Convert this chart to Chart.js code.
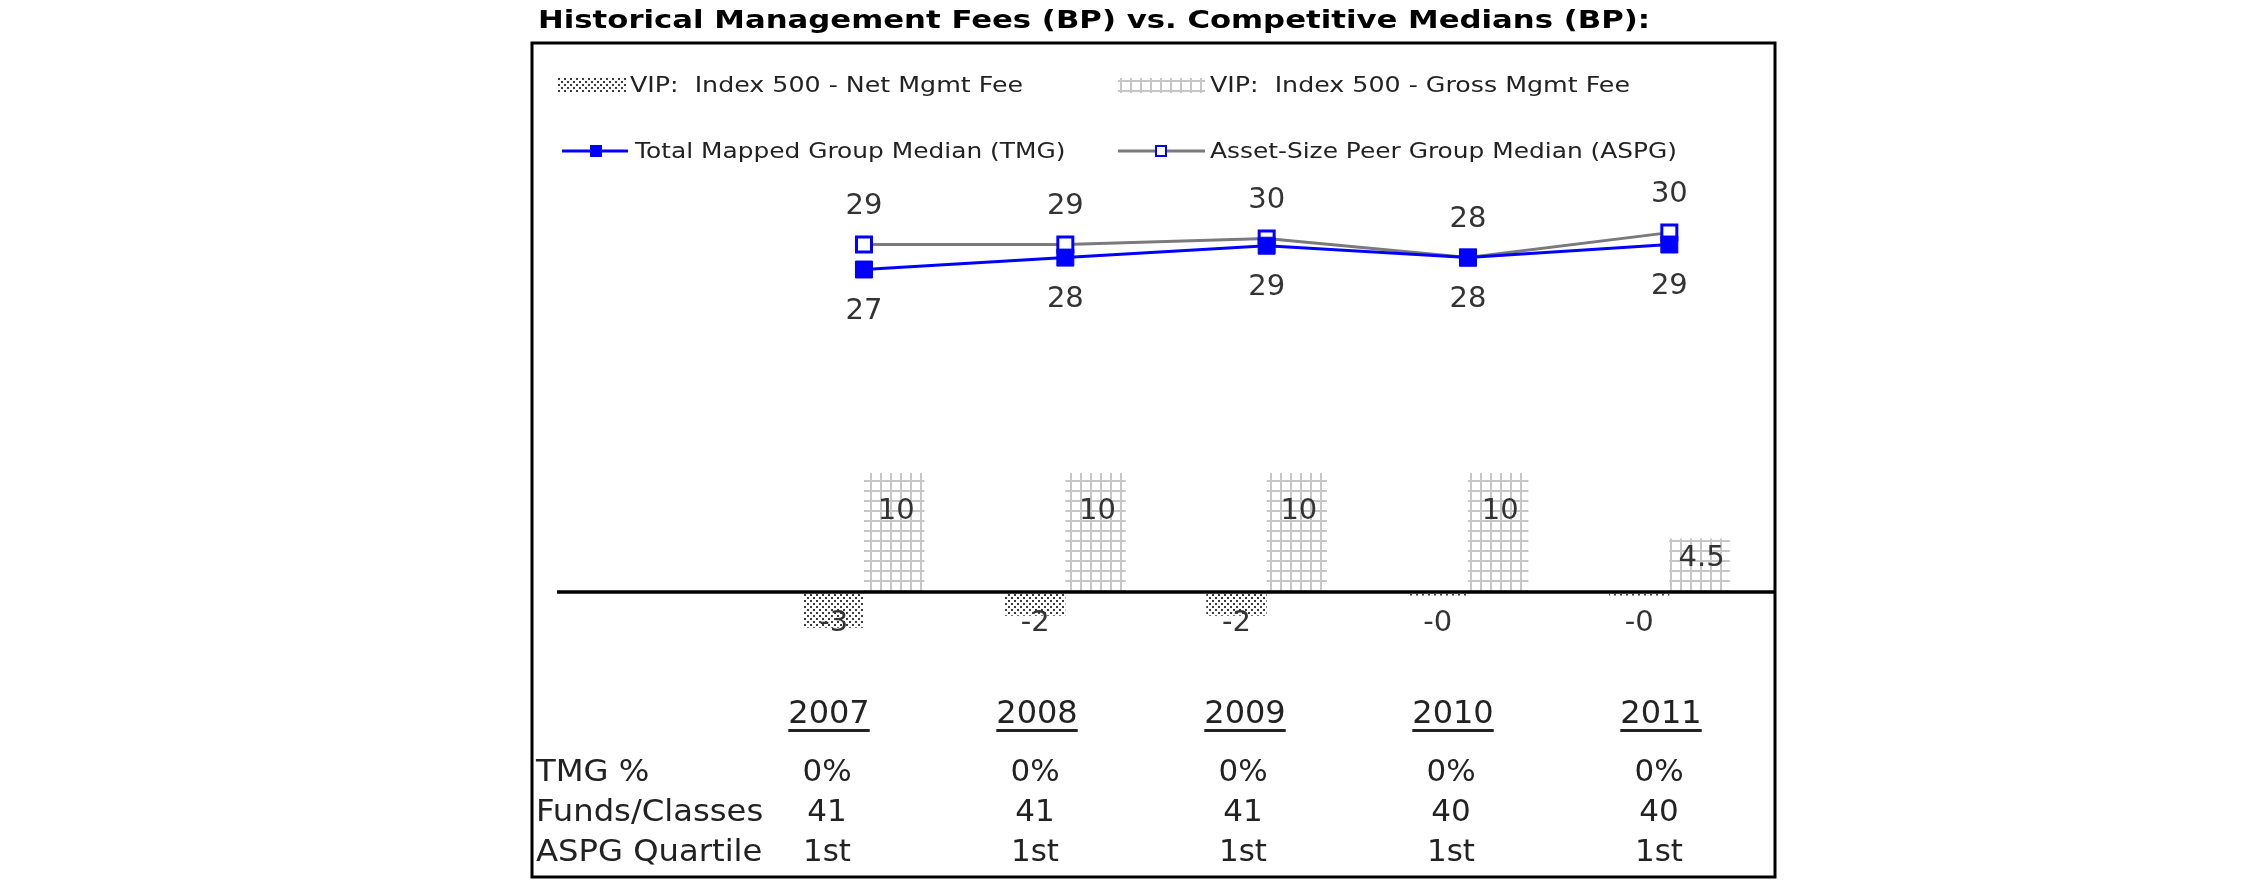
<!DOCTYPE html>
<html>
<head>
<meta charset="utf-8">
<title>Historical Management Fees (BP) vs. Competitive Medians (BP)</title>
<script src="https://cdn.jsdelivr.net/npm/chart.js@4.4.1/dist/chart.umd.min.js"></script>
<style>
    html, body { margin: 0; padding: 0; background: #fff; }
    .wrap { position: relative; width: 2250px; height: 895px; }
</style>
</head>
<body>
<div class="wrap"><canvas id="feeChart"></canvas></div>
<script>
// Chart data (basis points)
const years = ['2007', '2008', '2009', '2010', '2011'];
const netFee = [-3, -2, -2, -0.3, -0.3];
const grossFee = [10, 10, 10, 10, 4.5];
const tmgMedian = [27.1, 28.1, 29.1, 28.1, 29.2];
const aspgMedian = [29.2, 29.2, 29.7, 28.1, 30.2];

// Table under the chart
const tmgPct = ['0%', '0%', '0%', '0%', '0%'];
const fundsClasses = ['41', '41', '41', '40', '40'];
const aspgQuartile = ['1st', '1st', '1st', '1st', '1st'];
const tableRows = [
    ['TMG %', tmgPct],
    ['Funds/Classes', fundsClasses],
    ['ASPG Quartile', aspgQuartile]
];

const chartTitle = 'Historical Management Fees (BP) vs. Competitive Medians (BP):';
const seriesNames = [
    'VIP:  Index 500 - Net Mgmt Fee',
    'VIP:  Index 500 - Gross Mgmt Fee',
    'Total Mapped Group Median (TMG)',
    'Asset-Size Peer Group Median (ASPG)'
];

const FONT = '"DejaVu Sans", Verdana, sans-serif';
const canvas = document.getElementById('feeChart');
const ctx = canvas.getContext('2d');

// Fill patterns like the old Excel bars
function dotPattern() {
    const c = document.createElement('canvas');
    c.width = 6; c.height = 6;
    const g = c.getContext('2d');
    g.fillStyle = '#3c3c3c';
    g.fillRect(0, 0, 2, 2);
    g.fillRect(3, 3, 2, 2);
    return ctx.createPattern(c, 'repeat');
}

function gridPattern() {
    const c = document.createElement('canvas');
    c.width = 10; c.height = 10;
    const g = c.getContext('2d');
    g.fillStyle = '#c6c6c6';
    g.fillRect(0, 0, 2, 10);
    g.fillRect(0, 0, 10, 2);
    return ctx.createPattern(c, 'repeat');
}

const dots = dotPattern();
const grid = gridPattern();

// first slot is an empty category, as in the original chart
const labels = [''].concat(years);
const pad = arr => [null].concat(arr);

function stretchText(g, text, x, y, sx) {
    g.save();
    g.translate(x, y);
    g.scale(sx, 1);
    g.fillText(text, 0, 0);
    g.restore();
}

const decor = {
    id: 'decor',
    afterDatasetsDraw(chart) {
        const g = chart.ctx;
        const ys = chart.scales.y;
        const zero = ys.getPixelForValue(0);
        const ds = chart.data.datasets;

        g.save();

        // title
        g.fillStyle = '#000';
        g.font = 'bold 25px ' + FONT;
        g.textAlign = 'left';
        g.textBaseline = 'alphabetic';
        stretchText(g, chartTitle, 538, 28, 1.23);

        // frame
        g.strokeStyle = '#000';
        g.lineWidth = 3;
        g.strokeRect(532, 43, 1243, 834);

        // zero line
        g.beginPath();
        g.moveTo(557, zero);
        g.lineTo(1775, zero);
        g.lineWidth = 3.5;
        g.stroke();

        // legend
        g.font = '22px ' + FONT;
        g.textBaseline = 'middle';
        g.fillStyle = ds[0].backgroundColor;
        g.fillRect(557, 78, 70, 15);
        g.fillStyle = ds[1].backgroundColor;
        g.fillRect(1118, 78, 87, 15);
        g.fillStyle = '#222';
        stretchText(g, ds[0].label, 630, 86, 1.15);
        stretchText(g, ds[1].label, 1210, 86, 1.15);

        g.lineWidth = 3;
        g.strokeStyle = ds[2].borderColor;
        g.beginPath(); g.moveTo(562, 151); g.lineTo(628, 151); g.stroke();
        g.fillStyle = ds[2].pointBackgroundColor;
        g.fillRect(590, 145, 12, 12);
        g.strokeStyle = ds[3].borderColor;
        g.beginPath(); g.moveTo(1118, 151); g.lineTo(1205, 151); g.stroke();
        g.fillStyle = '#fff';
        g.fillRect(1156, 146, 10, 10);
        g.strokeStyle = ds[3].pointBorderColor;
        g.lineWidth = 2;
        g.strokeRect(1156, 146, 10, 10);
        g.fillStyle = '#222';
        stretchText(g, ds[2].label, 635, 152, 1.13);
        stretchText(g, ds[3].label, 1210, 152, 1.13);

        // value labels
        g.font = '29px ' + FONT;
        g.fillStyle = '#333';
        g.textAlign = 'center';
        g.textBaseline = 'middle';
        chart.getDatasetMeta(0).data.forEach((bar, i) => {
            const v = ds[0].data[i];
            if (v === null) return;
            g.fillText(v.toFixed(0), bar.x, zero + 31);
        });
        chart.getDatasetMeta(1).data.forEach((bar, i) => {
            const v = ds[1].data[i];
            if (v === null) return;
            const txt = v % 1 ? v.toFixed(1) : v.toFixed(0);
            g.fillText(txt, bar.x + 2, bar.y + Math.min(38, (bar.base - bar.y) * 0.37));
        });
        chart.getDatasetMeta(2).data.forEach((pt, i) => {
            const v = ds[2].data[i];
            if (v === null) return;
            g.fillText(v.toFixed(0), pt.x, pt.y + 42);
        });
        chart.getDatasetMeta(3).data.forEach((pt, i) => {
            const v = ds[3].data[i];
            if (v === null) return;
            g.fillText(v.toFixed(0), pt.x, pt.y - 38);
        });

        // table
        g.fillStyle = '#222';
        g.textBaseline = 'alphabetic';
        g.font = '32px ' + FONT;
        years.forEach((yr, i) => {
            const cx = 829 + 208 * i;
            g.textAlign = 'center';
            g.fillText(yr, cx, 723);
            const w = g.measureText(yr).width;
            g.fillRect(cx - w / 2, 729, w, 3);
        });
        g.font = '31px ' + FONT;
        tableRows.forEach((row, r) => {
            const y = 781 + 40 * r;
            g.textAlign = 'left';
            stretchText(g, row[0], 536, y, 1.04);
            g.textAlign = 'center';
            row[1].forEach((val, i) => g.fillText(val, 827 + 208 * i, y));
        });

        g.restore();
    }
};

new Chart(canvas, {
    type: 'bar',
    data: {
        labels: labels,
        datasets: [
            {
                label: seriesNames[0],
                data: pad(netFee),
                backgroundColor: dots,
                categoryPercentage: 0.6,
                barPercentage: 1.0,
                order: 2
            },
            {
                label: seriesNames[1],
                data: pad(grossFee),
                backgroundColor: grid,
                categoryPercentage: 0.6,
                barPercentage: 1.0,
                order: 2
            },
            {
                type: 'line',
                label: seriesNames[2],
                data: pad(tmgMedian),
                borderColor: '#0000ff',
                backgroundColor: '#0000ff',
                borderWidth: 3,
                pointStyle: 'rect',
                pointRadius: 12,
                pointBackgroundColor: '#0000ff',
                pointBorderColor: '#0000ff',
                pointBorderWidth: 1,
                tension: 0,
                order: 0
            },
            {
                type: 'line',
                label: seriesNames[3],
                data: pad(aspgMedian),
                borderColor: '#7a7a7a',
                backgroundColor: '#7a7a7a',
                borderWidth: 3,
                pointStyle: 'rect',
                pointRadius: 10.6,
                pointBackgroundColor: '#ffffff',
                pointBorderColor: '#0000ff',
                pointBorderWidth: 3,
                tension: 0,
                order: 1
            }
        ]
    },
    options: {
        responsive: true,
        maintainAspectRatio: false,
        animation: false,
        events: [],
        layout: {
            padding: { left: 562, right: 480, top: 175.5, bottom: 243.5 }
        },
        plugins: {
            legend: { display: false },
            title: { display: false },
            tooltip: { enabled: false }
        },
        scales: {
            x: { display: false },
            y: { display: false, min: -5, max: 35 }
        }
    },
    plugins: [decor]
});
</script>
</body>
</html>
